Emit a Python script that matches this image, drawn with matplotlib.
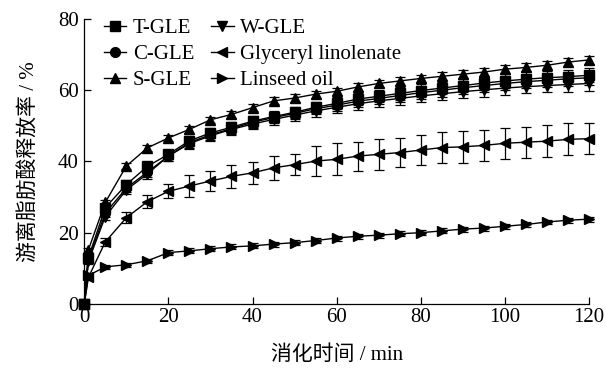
import matplotlib
matplotlib.use("Agg")
import matplotlib.pyplot as plt

plt.rcParams['font.family'] = ['Liberation Serif', 'Noto Sans CJK SC']
plt.rcParams['mathtext.fontset'] = 'stix'

time = [0, 1, 5, 10, 15, 20, 25, 30, 35, 40, 45, 50, 55, 60, 65, 70, 75, 80, 85, 90, 95, 100, 105, 110, 115, 120]

t_gle = [0, 13, 27, 33.5, 38.6, 42, 45.8, 48, 49.6, 51.3, 52.6, 53.8, 55.2, 56.3, 57.5, 58.3, 59.1, 59.9, 60.6, 61.3, 62, 62.6, 63.1, 63.5, 63.8, 64.2]
c_gle = [0, 12.5, 25.5, 32.5, 37, 41.5, 45.3, 47.5, 49.2, 51, 52.3, 53.5, 54.8, 55.8, 56.9, 57.7, 58.5, 59.3, 60, 60.7, 61.3, 61.9, 62.4, 62.8, 63.2, 63.5]
s_gle = [0, 15.2, 28.5, 38.7, 43.8, 46.6, 49, 51.7, 53.2, 55.1, 57, 57.8, 58.9, 59.7, 60.9, 61.9, 62.6, 63.3, 63.9, 64.5, 65.1, 65.9, 66.4, 67, 67.9, 68.5]
w_gle = [0, 12, 24.5, 32, 36.5, 41.5, 45, 47.2, 49, 50.5, 51.8, 53, 54.2, 55.2, 56.2, 57, 57.7, 58.4, 59, 59.6, 60.1, 60.6, 61, 61.3, 61.6, 61.9]
gl = [0, 7.5, 17.4, 24.2, 28.7, 31.6, 33.1, 34.5, 35.8, 36.8, 38.2, 39.1, 40.1, 40.6, 41.5, 42, 42.5, 43.2, 43.9, 44.1, 44.5, 45.1, 45.4, 45.7, 46.2, 46.4]
linseed = [0, 8, 10.4, 11, 12.1, 14.4, 14.9, 15.5, 16, 16.3, 16.8, 17.2, 17.8, 18.5, 19, 19.3, 19.7, 20, 20.5, 21, 21.3, 21.8, 22.3, 23, 23.5, 23.8]

t_err = [0, 0.8, 1.0, 1.2, 1.3, 1.3, 1.4, 1.5, 1.5, 1.5, 1.6, 1.6, 1.6, 1.7, 1.7, 1.7, 1.8, 1.8, 1.8, 1.8, 1.9, 1.9, 1.9, 1.9, 2.0, 2.0]
c_err = [0, 0.8, 1.0, 1.2, 1.3, 1.3, 1.4, 1.5, 1.5, 1.5, 1.6, 1.6, 1.6, 1.7, 1.7, 1.7, 1.8, 1.8, 1.8, 1.8, 1.9, 1.9, 1.9, 1.9, 2.0, 2.0]
s_err = [0, 0.6, 0.8, 0.8, 0.8, 0.9, 0.9, 0.9, 1.0, 1.0, 1.0, 1.0, 1.0, 1.0, 1.0, 1.0, 1.1, 1.1, 1.1, 1.1, 1.1, 1.1, 1.1, 1.2, 1.2, 1.2]
w_err = [0, 0.8, 1.0, 1.2, 1.3, 1.3, 1.4, 1.5, 1.5, 1.5, 1.6, 1.6, 1.6, 1.7, 1.7, 1.7, 1.8, 1.8, 1.8, 1.8, 1.9, 1.9, 1.9, 1.9, 2.0, 2.0]
gl_err = [0, 0.5, 1.0, 1.5, 1.9, 2.0, 3.0, 2.7, 3.3, 3.0, 3.3, 3.0, 4.2, 4.5, 4.1, 4.3, 4.0, 4.3, 4.3, 4.4, 4.3, 4.3, 4.3, 4.4, 4.5, 4.4]
linseed_err = [0, 0.5, 0.6, 0.6, 0.6, 0.7, 0.7, 0.7, 0.7, 0.7, 0.7, 0.7, 0.7, 0.7, 0.7, 0.7, 0.7, 0.7, 0.7, 0.7, 0.7, 0.7, 0.7, 0.7, 0.7, 0.7]

labels = ['T-GLE', 'C-GLE', 'S-GLE', 'W-GLE', 'Glyceryl linolenate', 'Linseed oil']
series = [t_gle, c_gle, s_gle, w_gle, gl, linseed]
errors = [t_err, c_err, s_err, w_err, gl_err, linseed_err]
markers = ['s', 'o', '^', 'v', '<', '>']

fig = plt.figure(figsize=(6.06, 3.72), dpi=100)
ax = fig.add_axes([0.139, 0.183, 0.833, 0.766])

handles = []
for y, e, m, lab in zip(series, errors, markers, labels):
    ax.errorbar(time, y, yerr=e, fmt='none', ecolor='black', elinewidth=0.9,
                capsize=3.5, capthick=0.9, clip_on=False, zorder=2)
    h, = ax.plot(time, y, color='black', lw=1.0, marker=m, markersize=7,
                 markerfacecolor='black', markeredgecolor='black',
                 clip_on=False, zorder=3, label=lab)
    handles.append(h)

ax.set_xlim(0, 120)
ax.set_ylim(0, 80)
ax.set_xticks(range(0, 121, 20))
ax.set_yticks(range(0, 81, 20))
for s in ['top', 'right']:
    ax.spines[s].set_visible(False)
for s in ['left', 'bottom']:
    ax.spines[s].set_linewidth(0.9)
ax.tick_params(direction='in', length=5, width=0.9, labelsize=15)
ax.tick_params(axis='y', pad=4)
ax.tick_params(axis='x', pad=3)

ax.set_xlabel('消化时间 / min', fontsize=15, labelpad=13)
ax.set_ylabel('游离脂肪酸释放率 / %', fontsize=15, labelpad=13)

ax.legend(handles=handles, ncol=2, loc='upper left', bbox_to_anchor=(0.03, 1.015),
          frameon=False, fontsize=15, handlelength=1.1, handletextpad=0.3,
          columnspacing=0.8, labelspacing=0.3, borderaxespad=0.0, borderpad=0.2)

fig.savefig('out.png', dpi=100)
